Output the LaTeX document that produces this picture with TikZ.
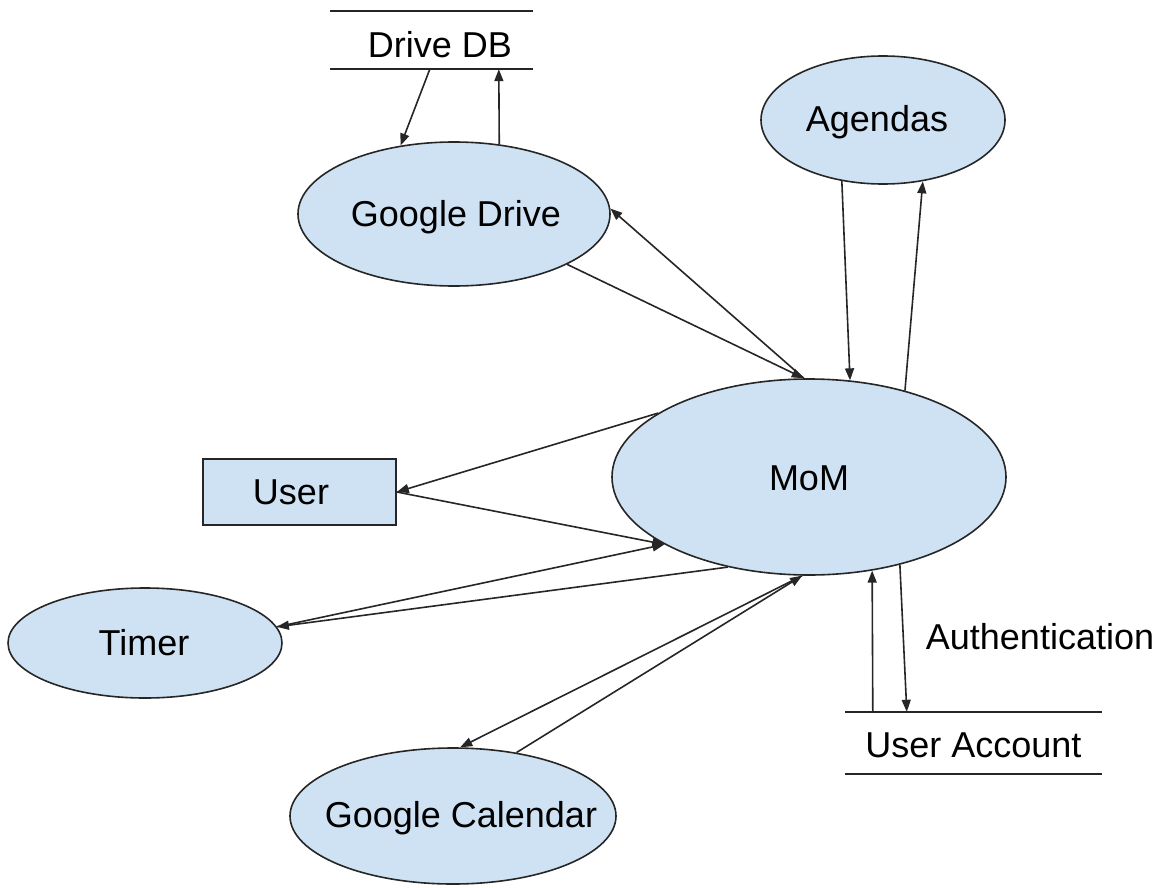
\documentclass[tikz,border=0pt]{standalone}
\usepackage{fontspec}
\setmainfont{Liberation Sans}
\usetikzlibrary{shapes.geometric,arrows.meta,calc}
\definecolor{fillblue}{HTML}{CFE2F3}
\definecolor{edge}{HTML}{262626}
\begin{document}
\begin{tikzpicture}[x=1pt,y=-1pt,
  ell/.style={ellipse,draw=edge,line width=1.6pt,fill=fillblue,inner sep=0pt},
  txt/.style={font=\fontsize{36}{42}\selectfont,text height=25pt,text depth=0pt,inner sep=0pt},
  arr/.style={-{Triangle[length=12pt,width=9pt]},line width=1.6pt,draw=edge},
  ln/.style={line width=1.6pt,draw=edge}]
\useasboundingbox (0,0) rectangle (1164,888);
% shapes
\node[ell,minimum width=312,minimum height=144] (gd) at (454,214) {};
\node[ell,minimum width=244,minimum height=128] (ag) at (883,120) {};
\node[ell,minimum width=394,minimum height=196] (mom) at (809,477) {};
\node[ell,minimum width=274,minimum height=110] (tm) at (145,643) {};
\node[ell,minimum width=326,minimum height=136] (gc) at (453,816) {};
\node[draw=edge,line width=1.6pt,fill=fillblue,minimum width=193,minimum height=66,inner sep=0pt] (us) at (299.5,492) {};
\node[minimum width=203,minimum height=58,inner sep=0pt] (db) at (431.5,40) {};
\node[minimum width=257,minimum height=62,inner sep=0pt] (ua) at (973.5,743) {};
\draw[ln] (db.north west) -- (db.north east);
\draw[ln] (db.south west) -- (db.south east);
\draw[ln] (ua.north west) -- (ua.north east);
\draw[ln] (ua.south west) -- (ua.south east);
% texts
\node[txt] (gdt) at (456,214) {Google Drive};
\node[txt] (agt) at (877,119) {Agendas};
\node[txt] (momt) at (809,478) {MoM};
\node[txt] (ust) at (291,492) {User};
\node[txt] (tmt) at (144,643) {Timer};
\node[txt] (gct) at (461,815) {Google Calendar};
\node[txt] (dbt) at (440,45) {Drive DB};
\node[txt] (uat) at (973.5,745) {User Account};
\node[txt] (auth) at (1040,637) {Authentication};
% connectors
\coordinate (db1) at ($(db.south west)+(100,0)$);
\coordinate (db2) at ($(db.south west)+(169,0)$);
\coordinate (ua1) at ($(ua.north west)+(28,0)$);
\coordinate (ua2) at ($(ua.north west)+(62,0)$);
\draw[arr] (db1) -- (gd.128.5);
\draw[arr] (gd.57.3) -- (db2);
\draw[arr] (gd.-24.2) -- (mom.93.4);
\draw[arr] (mom.93.4) -- (gd.2);
\draw[arr] (ag.236) -- (mom.67.4);
\draw[arr] (mom.42.1) -- (ag.303.5);
\draw[arr] (mom.157.4) -- (us.east);
\draw[arr] (us.east) -- (mom.205.5);
\draw[arr] (tm.7) -- (mom.205.5);
\draw[arr] (mom.228) -- (tm.7);
\draw[arr] (mom.266.6) -- (gc.84.4);
\draw[arr] (gc.45.5) -- (mom.266.6);
\draw[arr] (ua1) -- (mom.304.5);
\draw[arr] (mom.316) -- (ua2);
\end{tikzpicture}
\end{document}
